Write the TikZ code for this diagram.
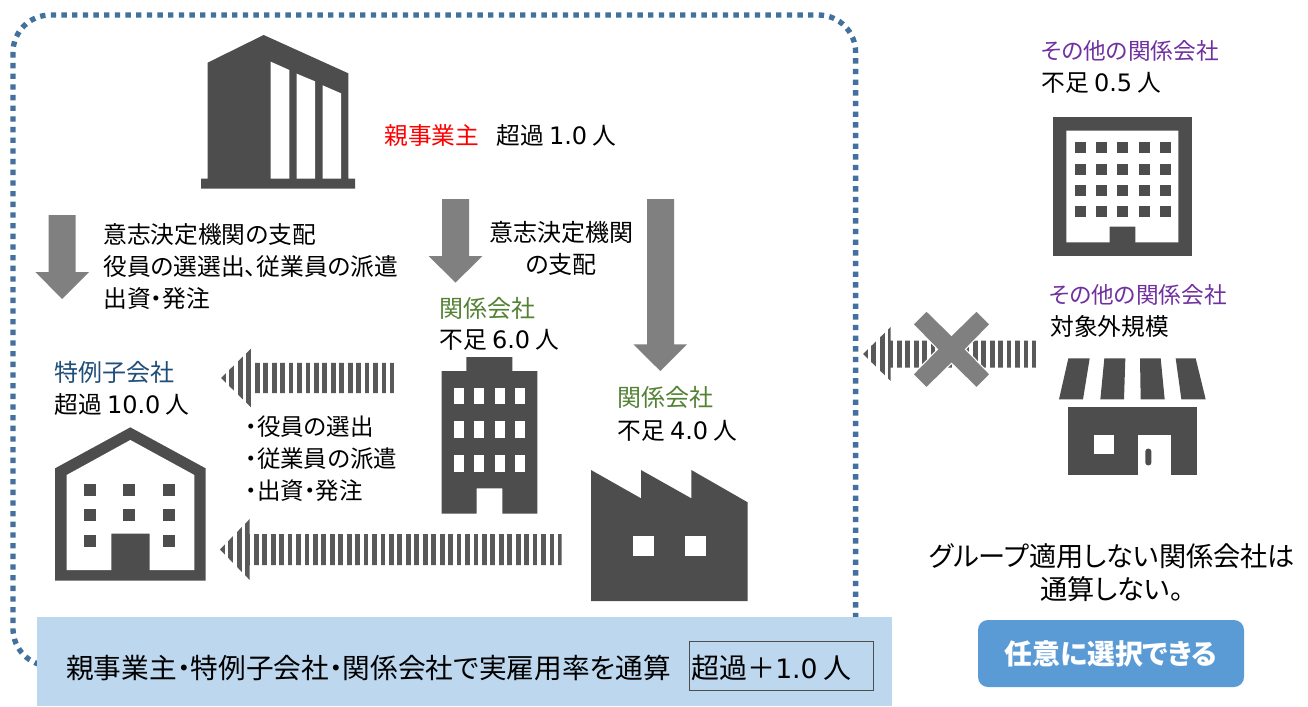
\documentclass[tikz,border=0pt]{standalone}
\usepackage{fontspec}
\newfontfamily\cjk[RawFeature=+palt]{Noto Sans CJK JP}
\newfontfamily\lat{DejaVu Sans}
\definecolor{dark}{HTML}{4D4D4D}
\definecolor{midgray}{HTML}{808080}
\definecolor{stripe}{HTML}{595959}
\definecolor{frameblue}{HTML}{41719C}
\definecolor{barblue}{HTML}{BDD7EE}
\definecolor{btnblue}{HTML}{5B9BD5}
\definecolor{relgreen}{HTML}{548235}
\definecolor{othpurple}{HTML}{7030A0}
\definecolor{subblue}{HTML}{1F4E79}
\newcommand{\nm}[1]{{\lat\fontsize{18pt}{20pt}\selectfont #1}}
\newcommand{\stripedarrow}[6]{% tip, base, right, yc, headhalf, shafthalf
  \begin{scope}
    \clip (#1,#4) -- (#2,#4-#5) -- (#2,#4-#6) -- (#3,#4-#6) -- (#3,#4+#6) -- (#2,#4+#6) -- (#2,#4+#5) -- cycle;
    \foreach \i in {0,...,45}{
      \fill[stripe] ({#1+8.45*\i},#4-#5) rectangle ({#1+8.45*\i+4.8},#4+#5);
    }
  \end{scope}}
\tikzset{
  txt/.style={inner sep=0pt,anchor=base west,font=\cjk\fontsize{17.8pt}{21pt}\selectfont},
  ctxt/.style={inner sep=0pt,anchor=base,font=\cjk\fontsize{20.4pt}{24pt}\selectfont},
  icon/.style={fill=dark,draw=none},
  hole/.style={fill=white,draw=none},
  blockarrow/.style={fill=midgray,draw=none},
}
\begin{document}
\begin{tikzpicture}[x=.75pt,y=-.75pt]
\useasboundingbox (0,0) rectangle (1308,706);
\fill[white] (0,0) rectangle (1308,706);
% dotted frame
\draw[frameblue,line width=4pt,dash pattern=on 4pt off 4pt,rounded corners=28pt] (13,15) rectangle (855.6,666);
% headquarters
\begin{scope}[shift={(0,0)},x=.25pt,y=-.25pt]
\fill[icon] (623,188)--(791,105)--(1045,220)--(1045,536)--(1065,536)--(1065,566)--(603,566)--(603,536)--(623,536)--cycle;
\fill[hole] (812,185)--(868,210)--(868,536)--(812,536)--cycle;
\fill[hole] (890,221)--(945,244)--(945,536)--(890,536)--cycle;
\fill[hole] (968,256)--(1023,280)--(1023,536)--(968,536)--cycle;
\end{scope}
% subsidiary
\begin{scope}[yshift=-255pt,x=.25pt,y=-.25pt]
\fill[icon] (165,385)--(391,262)--(617,385)--(617,722)--(165,722)--cycle;
\fill[hole] (200,405)--(391,300)--(583,405)--(583,690)--(449,690)--(449,581)--(334,581)--(334,690)--(200,690)--cycle;
\foreach \wx/\wy in {253/431,370/431,490/431,253/507,370/507,490/507,253/584,490/584}
  \fill[icon] (\wx,\wy) rectangle ++(36,36);
\end{scope}
% related office
\begin{scope}[xshift=315pt,yshift=-142.5pt,x=.25pt,y=-.25pt]
\fill[icon] (65,543)--(139,543)--(139,501)--(277,501)--(277,543)--(352,543)--(352,971)--(247,971)--(247,895)--(170,895)--(170,971)--(65,971)--cycle;
\foreach \wx in {101,162,224,285}\foreach \wy in {593,694,795}
  \fill[hole] (\wx,\wy) rectangle ++(30,50);
% factory
\fill[icon] (513,840)--(663,925)--(663,840)--(814,925)--(814,840)--(983,937)--(983,1233)--(513,1233)--cycle;
\fill[hole] (639,1037) rectangle (701,1099);
\fill[hole] (795,1037) rectangle (857,1099);
\end{scope}
% other related office
\begin{scope}[xshift=772.5pt,yshift=-75pt,x=.25pt,y=-.25pt]
\fill[icon] (69,51) rectangle (486,468);
\fill[hole] (109,92)--(445,92)--(445,427)--(316,427)--(316,380)--(239,380)--(239,427)--(109,427)--cycle;
\foreach \wx in {134,198,262,326,390}\foreach \wy in {127,191,255,319}
  \fill[icon] (\wx,\wy) rectangle ++(33,33);
\end{scope}
% shop
\begin{scope}[xshift=637.5pt,yshift=-202.5pt,x=.25pt,y=-.25pt]
\fill[icon] (655,265)--(719,265)--(699,388)--(627,388)--cycle;
\fill[icon] (763,265)--(826,265)--(822,388)--(751,388)--cycle;
\fill[icon] (870,265)--(932,265)--(944,388)--(872,388)--cycle;
\fill[icon] (977,265)--(1037,265)--(1067,388)--(994,388)--cycle;
\fill[icon] (655,410) rectangle (1040,614);
\fill[hole] (731,494) rectangle (791,553);
\fill[hole] (865,494) rectangle (964,614);
\fill[icon,rounded corners=2pt] (886,536) rectangle (904,586);
\end{scope}
% block arrows
\fill[blockarrow] (48.7,215)--(75.7,215)--(75.7,272)--(89,272)--(62.2,299)--(35.3,272)--(48.7,272)--cycle;
\fill[blockarrow] (442,199)--(469,199)--(469,256)--(482.3,256)--(455.5,282.7)--(428.7,256)--(442,256)--cycle;
\fill[blockarrow] (647,199)--(674,199)--(674,344.3)--(687,344.3)--(660.3,371)--(633.3,344.3)--(647,344.3)--cycle;
% striped arrows
\stripedarrow{221}{251.7}{394}{378}{30}{15.2}
\stripedarrow{220}{249.7}{561.5}{549.5}{30.5}{15.5}
\stripedarrow{863}{890.7}{1036.7}{354}{27}{13.5}
% cross
\fill[midgray,draw=white,line width=.8pt] (926.5,310.8)--(951.5,335.3)--(976.5,310.8)--(990,324.3)--(965.5,349.3)--(990,374.3)--(976.5,387.8)--(951.5,363.3)--(926.5,387.8)--(913,374.3)--(937.5,349.3)--(913,324.3)--cycle;
% bottom bar
\fill[barblue] (37,617) rectangle (892,706);
\node[draw=dark,line width=1.3pt,minimum width=184*.75pt,minimum height=49*.75pt,inner sep=0pt] (sumbox) at (781.5,666) {};
% button
\node[fill=btnblue,rounded corners=7.5pt,minimum width=266*.75pt,minimum height=67*.75pt,inner sep=0pt,text=white,font=\cjk\bfseries\fontsize{20.9pt}{24pt}\selectfont] (btn) at (1111,653.5) {任意に選択できる};
% texts
\node[txt,text=red] (oyaname) at (384,145) {親事業主};
\node[txt] (oyaval) at (496,145) {超過 \nm{1.0} 人};
\node[txt] (ctl1) at (103,243) {意志決定機関の支配};
\node[txt] (ctl2) at (103,275) {役員の選選出、従業員の派遣};
\node[txt] (ctl3) at (103,307) {出資・発注};
\node[ctxt,font=\cjk\fontsize{18pt}{21pt}\selectfont] (mid1) at (561,241) {意志決定機関};
\node[ctxt,font=\cjk\fontsize{18pt}{21pt}\selectfont] (mid2) at (561,273) {の支配};
\node[txt,font=\cjk\fontsize{18pt}{21pt}\selectfont,text=relgreen] (rel1name) at (439,317) {関係会社};
\node[txt] (rel1val) at (439,348) {不足 \nm{6.0} 人};
\node[txt,font=\cjk\fontsize{18pt}{21pt}\selectfont,text=relgreen] (rel2name) at (617,406) {関係会社};
\node[txt] (rel2val) at (617,439) {不足 \nm{4.0} 人};
\node[txt,font=\cjk\fontsize{18pt}{21pt}\selectfont,text=subblue] (subname) at (54,381) {特例子会社};
\node[txt] (subval) at (54,413) {超過 \nm{10.0} 人};
\node[txt,font=\cjk\fontsize{17.6pt}{21pt}\selectfont] (bul1) at (245,435) {・役員の選出};
\node[txt,font=\cjk\fontsize{17.6pt}{21pt}\selectfont] (bul2) at (245,467) {・従業員の派遣};
\node[txt,font=\cjk\fontsize{17.6pt}{21pt}\selectfont] (bul3) at (245,499) {・出資・発注};
\node[txt,font=\cjk\fontsize{17pt}{21pt}\selectfont,text=othpurple] (oth1name) at (1041,60) {その他の関係会社};
\node[txt] (oth1val) at (1041,92) {不足 \nm{0.5} 人};
\node[txt,font=\cjk\fontsize{17pt}{21pt}\selectfont,text=othpurple] (oth2name) at (1049,303) {その他の関係会社};
\node[txt] (oth2val) at (1050,335) {対象外規模};
\node[ctxt] (note1) at (1112,566) {グループ適用しない関係会社は};
\node[ctxt] (note2) at (1112,599) {通算しない。};
\node[txt,font=\cjk\fontsize{20.75pt}{24pt}\selectfont] (sumtxt) at (66,678) {親事業主・特例子会社・関係会社で実雇用率を通算};
\node[txt,font=\cjk\fontsize{21pt}{24pt}\selectfont] (sumval) at (691,678) {超過＋{\lat\fontsize{20pt}{22pt}\selectfont 1.0} 人};
\end{tikzpicture}
\end{document}
